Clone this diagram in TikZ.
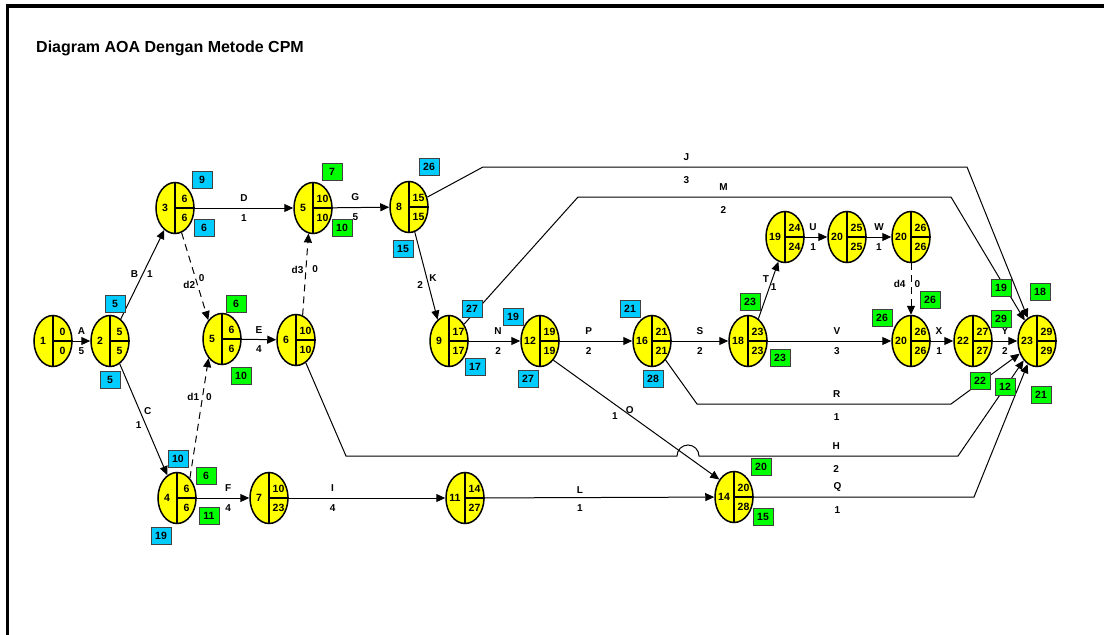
\documentclass[tikz,border=0pt]{standalone}
\usepackage{fontspec}
\setmainfont{Liberation Sans}
\usepackage{xcolor}
\usepackage{tikz}
\usetikzlibrary{shapes.geometric,arrows.meta}
\definecolor{aoayellow}{HTML}{FFFF00}
\definecolor{aoacyan}{HTML}{00CCFF}
\definecolor{aoagreen}{HTML}{00FF00}

\newcommand{\aoaevent}[5]{%
  \node[event] (#1) at (#2) {};
  \draw[evline] (#1.north) -- (#1.south) (#1.center) -- (#1.east);
  \node[evtext] (#1n) at ([xshift=-10pt]#1.center) {#3};
  \node[evtext] (#1t) at ([xshift=9.5pt,yshift=9.5pt]#1.center) {#4};
  \node[evtext] (#1b) at ([xshift=9.5pt,yshift=-9.5pt]#1.center) {#5};
}

\begin{document}
\begin{tikzpicture}[x=1pt,y=-1pt,
  event/.style={ellipse,draw=black,line width=1.5pt,fill=aoayellow,minimum width=38pt,minimum height=51pt,inner sep=0pt},
  evline/.style={line width=1.5pt},
  evtext/.style={font=\fontsize{10.5}{11}\selectfont\bfseries,inner sep=0pt},
  lbl/.style={font=\fontsize{10}{11}\selectfont\bfseries,inner sep=1pt},
  box/.style={draw=black!75,line width=0.8pt,minimum width=20pt,minimum height=17pt,inner sep=0pt,font=\fontsize{10.5}{11}\selectfont\bfseries},
  cbox/.style={box,fill=aoacyan},
  gbox/.style={box,fill=aoagreen},
  arr/.style={line width=1pt,-{Triangle[length=9pt,width=8pt]}},
  dum/.style={arr,dash pattern=on 7pt off 5pt}]
  \useasboundingbox (0,0) rectangle (1104,635);
  \draw[line width=3.5pt] (7.5,635) -- (7.5,6) -- (1104,6);
  \node[anchor=base west,inner sep=0pt,font=\fontsize{16}{18}\selectfont\bfseries] (title) at (36,52) {Diagram AOA Dengan Metode CPM};

  \aoaevent{e1}{53,341}{1}{0}{0}
  \aoaevent{e2}{110,341}{2}{5}{5}
  \aoaevent{e3}{175,208}{3}{6}{6}
  \aoaevent{e4}{177,498}{4}{6}{6}
  \aoaevent{e5b}{222,339}{5}{6}{6}
  \aoaevent{e6}{296,340}{6}{10}{10}
  \aoaevent{e5a}{313,208}{5}{10}{10}
  \aoaevent{e7}{269,498}{7}{10}{23}
  \aoaevent{e8}{409,207}{8}{15}{15}
  \aoaevent{e9}{449,341}{9}{17}{17}
  \aoaevent{e11}{465,498}{11}{14}{27}
  \aoaevent{e12}{540,341}{12}{19}{19}
  \aoaevent{e14}{734,497}{14}{20}{28}
  \aoaevent{e16}{652,341}{16}{21}{21}
  \aoaevent{e18}{748,341}{18}{23}{23}
  \aoaevent{e19}{785,237}{19}{24}{24}
  \aoaevent{e20a}{847,237}{20}{25}{25}
  \aoaevent{e20b}{911,237}{20}{26}{26}
  \aoaevent{e20c}{911,341}{20}{26}{26}
  \aoaevent{e22}{973,341}{22}{27}{27}
  \aoaevent{e23}{1037,341}{23}{29}{29}

  \coordinate (j1) at (483,167);
  \coordinate (j2) at (967,167);
  \coordinate (m1) at (578,197);
  \coordinate (m2) at (951,197);
  \coordinate (r1) at (697,404);
  \coordinate (r2) at (951,404);
  \coordinate (h1) at (346,456);
  \coordinate (h2) at (677,456);
  \coordinate (h3) at (958,456);
  \coordinate (q1) at (974,497);

  \draw[arr] (e1) -- node[lbl,above=5pt] (lA) {A} node[lbl,below=5pt] (tA) {5} (e2);
  \draw[arr] (e2) -- node[lbl,left=3pt] (lB) {B} node[lbl,right=3pt] (tB) {1} (e3);
  \draw[arr] (e2) -- node[lbl,pos=.42,right=3pt] (lC) {C} node[lbl,pos=.55,left=3pt] (tC) {1} (e4);
  \draw[arr] (e3) -- node[lbl,above=5pt] (lD) {D} node[lbl,below=5pt] (tD) {1} (e5a);
  \draw[dum] (e3.-75) -- node[lbl,pos=.6,left=1pt] (ld2) {d2} node[lbl,pos=.52,right=2pt] (td2) {0} (e5b.126);
  \draw[arr] (e5b) -- node[lbl,above=5pt] (lE) {E} node[lbl,below=5pt] (tE) {4} (e6);
  \draw[dum] (e4.57) -- node[lbl,pos=.68,left=2pt] (ld1) {d1} node[lbl,pos=.68,right=2pt] (td1) {0} (e5b.235);
  \draw[dum] (e6.75) -- node[lbl,pos=.56,left=1pt] (ld3) {d3} node[lbl,pos=.56,right=5pt] (td3) {0} (e5a.260);
  \draw[arr] (e4) -- node[lbl,pos=.6,above=5pt] (lF) {F} node[lbl,pos=.6,below=5pt] (tF) {4} (e7);
  \draw[arr] (e5a) -- node[lbl,pos=.4,above=5pt] (lG) {G} node[lbl,pos=.4,below=5pt] (tG) {5} (e8);
  \draw[arr] (e7) -- node[lbl,pos=.28,above=5pt] (lI) {I} node[lbl,pos=.28,below=5pt] (tI) {4} (e11);
  \draw[arr] (e8.-77) -- node[lbl,pos=.53,right=1pt] (lK) {K} node[lbl,pos=.6,left=4pt] (tK) {2} (e9.118);
  \draw[arr] (e8) -- (j1) -- node[lbl,pos=.42,above=5pt] (lJ) {J} node[lbl,pos=.42,below=8pt] (tJ) {3} (j2) -- (e23);
  \draw[arr] (e9) -- (m1) -- node[lbl,pos=.39,above=5pt] (lM) {M} node[lbl,pos=.39,below=8pt] (tM) {2} (m2) -- (e23);
  \draw[arr] (e9) -- node[lbl,pos=.57,above=5pt] (lN) {N} node[lbl,pos=.57,below=5pt] (tN) {2} (e12);
  \draw[arr] (e12.-55) -- node[lbl,pos=.46,above=0pt] (lO) {O} node[lbl,pos=.37,below=7pt] (tO) {1} (e14.130);
  \draw[arr] (e11) -- node[lbl,pos=.415,above=3pt] (lL) {L} node[lbl,pos=.415,below=6pt] (tL) {1} (e14);
  \draw[arr] (e12) -- node[lbl,pos=.4,above=5pt] (lP) {P} node[lbl,pos=.4,below=5pt] (tP) {2} (e16);
  \draw[arr] (e16) -- (r1) -- node[lbl,pos=.55,above=5pt] (lR) {R} node[lbl,pos=.55,below=8pt] (tR) {1} (r2) -- (e23);
  \draw[arr] (e6) -- (h1) -- (h2) arc[start angle=180,end angle=360,radius=11]
    -- node[lbl,pos=.53,above=5pt] (lH) {H} node[lbl,pos=.53,below=8pt] (tH) {2} (h3) -- (e23);
  \draw[arr] (e14) -- node[lbl,pos=.38,above=4pt] (lQ) {Q} node[lbl,pos=.38,below=8pt] (tQ) {1} (q1) -- (e23);
  \draw[arr] (e16) -- node[lbl,above=5pt] (lS) {S} node[lbl,below=5pt] (tS) {2} (e18);
  \draw[arr] (e18.65) -- node[lbl,pos=.7,left=2pt] (lT) {T} node[lbl,pos=.55,right=0pt] (tT) {1} (e19.-105);
  \draw[arr] (e19) -- node[lbl,pos=.37,above=5pt] (lU) {U} node[lbl,pos=.37,below=5pt] (tU) {1} (e20a);
  \draw[arr] (e20a) -- node[lbl,above=5pt] (lW) {W} node[lbl,below=5pt] (tW) {1} (e20b);
  \draw[dum] (e20b) -- node[lbl,pos=.4,left=4pt] (ld4) {d4} node[lbl,pos=.4,right=2pt] (td4) {0} (e20c);
  \draw[arr] (e18) -- node[lbl,pos=.56,above=5pt] (lV) {V} node[lbl,pos=.56,below=5pt] (tV) {3} (e20c);
  \draw[arr] (e20c) -- node[lbl,pos=.37,above=5pt] (lX) {X} node[lbl,pos=.37,below=5pt] (tX) {1} (e22);
  \draw[arr] (e22) -- node[lbl,above=5pt] (lY) {Y} node[lbl,below=5pt] (tY) {2} (e23);

  \node[cbox] (c3t) at (202,180) {9};
  \node[cbox] (c3b) at (204,228) {6};
  \node[cbox] (c2t) at (115,304) {5};
  \node[cbox] (c2b) at (110,380) {5};
  \node[cbox] (c4t) at (178,459) {10};
  \node[cbox] (c4b) at (161,536) {19};
  \node[cbox] (c8t) at (429,167) {26};
  \node[cbox] (c8b) at (403,249) {15};
  \node[cbox] (c9t) at (472,309) {27};
  \node[cbox] (c9b) at (475,367) {17};
  \node[cbox] (c12t) at (513,317) {19};
  \node[cbox] (c12b) at (528,379) {27};
  \node[cbox] (c16t) at (630,309) {21};
  \node[cbox] (c16b) at (653,379) {28};

  \node[gbox] (g5bt) at (236,304) {6};
  \node[gbox] (g5bb) at (241,376) {10};
  \node[gbox] (g4t) at (206,476) {6};
  \node[gbox] (g4b) at (209,516) {11};
  \node[gbox] (g5at) at (332,172) {7};
  \node[gbox] (g5ab) at (342,228) {10};
  \node[gbox] (g18t) at (750,302) {23};
  \node[gbox] (g18b) at (780,358) {23};
  \node[gbox] (g23a) at (1001,288) {19};
  \node[gbox] (g23b) at (1040,292) {18};
  \node[gbox] (g20t) at (930,300) {26};
  \node[gbox] (g20l) at (882,318) {26};
  \node[gbox] (g23c) at (1001,319) {29};
  \node[gbox] (g23d) at (980,381) {22};
  \node[gbox] (g23e) at (1005,387) {12};
  \node[gbox] (g23f) at (1041,395) {21};
  \node[gbox] (g14t) at (761,467) {20};
  \node[gbox] (g14b) at (763,517) {15};
\end{tikzpicture}
\end{document}
